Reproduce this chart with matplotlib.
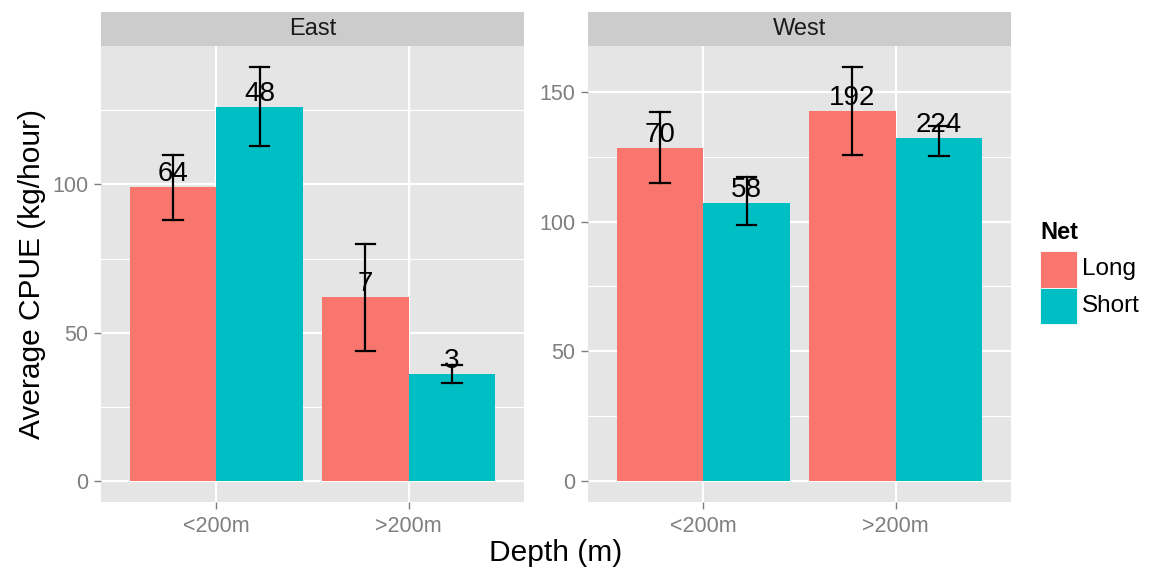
import matplotlib
matplotlib.use("Agg")
import matplotlib.pyplot as plt
import numpy as np
from matplotlib.patches import Rectangle

plt.rcParams['font.family'] = ['Liberation Sans', 'DejaVu Sans']

# data
regions = ["East", "West"]
depths = ["<200m", ">200m"]
nets = ["Long", "Short"]
colors = {"Long": "#F8766D", "Short": "#00BFC4"}

# mean CPUE [region][net][depth]
cpue = {
    "East": {"Long": [99, 62], "Short": [126, 36]},
    "West": {"Long": [128.5, 142.5], "Short": [107.3, 132]},
}
lower = {
    "East": {"Long": [88, 44], "Short": [112.8, 33]},
    "West": {"Long": [114.7, 125.8], "Short": [98.5, 125.3]},
}
upper = {
    "East": {"Long": [110, 80], "Short": [139.6, 39]},
    "West": {"Long": [142, 159.6], "Short": [117, 136.6]},
}
counts = {
    "East": {"Long": [64, 7], "Short": [48, 3]},
    "West": {"Long": [70, 192], "Short": [58, 224]},
}
yticks = {"East": [0, 50, 100], "West": [0, 50, 100, 150]}

W, H = 1152, 572
fig = plt.figure(figsize=(W / 100, H / 100), dpi=100)

lefts = {"East": 101, "West": 588}
pw = 423
ptop, pbot = 46, 502
stop = 12

x = np.arange(1, len(depths) + 1)
bw = 0.45

for reg in regions:
    ax = fig.add_axes([lefts[reg] / W, (H - pbot) / H, pw / W, (pbot - ptop) / H])
    ax.set_facecolor("#E5E5E5")
    for s in ax.spines.values():
        s.set_visible(False)

    ymax = max(max(upper[reg][n]) for n in nets)
    ax.set_ylim(-0.05 * ymax, ymax * 1.05)
    ax.set_xlim(0.4, 2.6)

    # grid
    for yv in np.arange(25, ymax * 1.05, 50):
        ax.axhline(yv, color="white", lw=0.8, zorder=0)
    for yv in yticks[reg]:
        ax.axhline(yv, color="white", lw=1.6, zorder=0)
    for xv in x:
        ax.axvline(xv, color="white", lw=1.6, zorder=0)

    for i, n in enumerate(nets):
        xs = x + (i - 0.5) * bw
        ax.bar(xs, cpue[reg][n], width=bw, color=colors[n], zorder=2)
        m = np.array(cpue[reg][n])
        lo = np.array(lower[reg][n])
        hi = np.array(upper[reg][n])
        for xx, a, b in zip(xs, lo, hi):
            ax.plot([xx, xx], [a, b], color="black", lw=1.6, zorder=3)
            ax.plot([xx - 0.05, xx + 0.05], [a, a], color="black", lw=1.6, zorder=3)
            ax.plot([xx - 0.05, xx + 0.05], [b, b], color="black", lw=1.6, zorder=3)
        for xx, v, c in zip(xs, m, counts[reg][n]):
            ax.text(xx, v, str(c), ha="center", va="bottom", fontsize=20,
                    color="black", zorder=4)

    ax.set_xticks(x)
    ax.set_xticklabels(depths)
    ax.set_yticks(yticks[reg])
    ax.tick_params(axis="both", colors="#7F7F7F", labelsize=15.5, length=5,
                   width=1, labelcolor="#7F7F7F")
    ax.tick_params(axis="x", pad=5)
    ax.tick_params(axis="y", pad=4)

    # strip
    sax = fig.add_axes([lefts[reg] / W, (H - ptop) / H, pw / W, (ptop - stop) / H])
    sax.set_facecolor("#CCCCCC")
    sax.set_xticks([])
    sax.set_yticks([])
    for s in sax.spines.values():
        s.set_visible(False)
    sax.text(0.5, 0.5, reg, ha="center", va="center", fontsize=17,
             color="#1A1A1A", transform=sax.transAxes)

fig.text(556 / W, 1 - 553 / H, "Depth (m)", ha="center", va="center", fontsize=21.5)
fig.text(32 / W, 1 - 274 / H, "Average CPUE (kg/hour)", ha="center", va="center",
         rotation=90, fontsize=21.5)

# legend (drawn by hand to get ggplot-sized keys)
fig.text(1040 / W, 1 - 233 / H, "Net", ha="left", va="center", fontsize=17,
         fontweight="bold")
key_top = 251
key_h = 36.5
for i, n in enumerate(nets):
    y0 = key_top + i * key_h
    fig.add_artist(Rectangle((1040 / W, 1 - (y0 + key_h) / H), 37 / W, key_h / H,
                             transform=fig.transFigure, facecolor=colors[n],
                             edgecolor="white", linewidth=0.6))
    fig.text(1082 / W, 1 - (y0 + key_h / 2) / H, n, ha="left", va="center",
             fontsize=17.5)

fig.savefig("out.png", dpi=100)
